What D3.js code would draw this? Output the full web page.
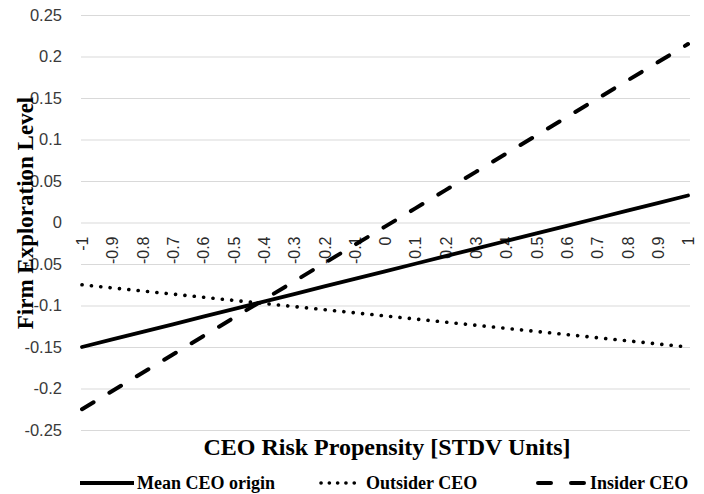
<!DOCTYPE html>
<html>
<head>
<meta charset="utf-8">
<script src="https://cdn.jsdelivr.net/npm/d3@7"></script>
<style>
  html, body { margin: 0; padding: 0; background: #fff; }
  svg { display: block; }
</style>
</head>
<body>
<div id="chart"></div>
<script>
// Risk propensity (standard-deviation units) on the category axis
const riskLevels = [-1, -0.9, -0.8, -0.7, -0.6, -0.5, -0.4, -0.3, -0.2, -0.1, 0,
                    0.1, 0.2, 0.3, 0.4, 0.5, 0.6, 0.7, 0.8, 0.9, 1];
const riskLabels = ["-1", "-0.9", "-0.8", "-0.7", "-0.6", "-0.5", "-0.4", "-0.3", "-0.2", "-0.1", "0",
                    "0.1", "0.2", "0.3", "0.4", "0.5", "0.6", "0.7", "0.8", "0.9", "1"];

// Predicted firm exploration level for each CEO origin
const meanOrigin = [-0.15, -0.1409, -0.1318, -0.1227, -0.1135, -0.1044, -0.0953, -0.0862, -0.077, -0.0679, -0.0588,
                    -0.0497, -0.0405, -0.0314, -0.0223, -0.0132, -0.004, 0.0051, 0.0143, 0.0234, 0.0325];
const outsider = [-0.075, -0.0788, -0.0825, -0.0863, -0.09, -0.0938, -0.0975, -0.1013, -0.105, -0.1088, -0.1125,
                  -0.1163, -0.12, -0.1238, -0.1275, -0.1313, -0.135, -0.1388, -0.1425, -0.1463, -0.15];
const insider = [-0.225, -0.203, -0.181, -0.159, -0.137, -0.115, -0.093, -0.071, -0.049, -0.027, -0.005,
                 0.017, 0.039, 0.061, 0.083, 0.105, 0.127, 0.149, 0.171, 0.193, 0.215];

const yTicks = [0.25, 0.2, 0.15, 0.1, 0.05, 0, -0.05, -0.1, -0.15, -0.2, -0.25];
const yTickLabels = ["0.25", "0.2", "0.15", "0.1", "0.05", "0", "-0.05", "-0.1", "-0.15", "-0.2", "-0.25"];

const seriesNames = ["Mean CEO origin", "Outsider CEO", "Insider CEO"];

const W = 704, H = 494;
const plot = { left: 81, right: 690, top: 15, bottom: 430 };

const serif = "'Liberation Serif', 'Times New Roman', serif";
const sans = "'Liberation Sans', Arial, sans-serif";

const svg = d3.select("#chart").append("svg")
  .attr("width", W).attr("height", H);

const x = d3.scalePoint()
  .domain(riskLabels)
  .range([82, 688]);

const y = d3.scaleLinear()
  .domain([-0.25, 0.25])
  .range([plot.bottom, plot.top]);

// Horizontal gridlines with value labels on the left
const yAxis = d3.axisLeft(y)
  .tickValues(yTicks)
  .tickSize(-(plot.right - plot.left))
  .tickPadding(19)
  .tickFormat((d, i) => yTickLabels[i]);

const gy = svg.append("g")
  .attr("transform", `translate(${plot.left},0)`)
  .call(yAxis);
gy.select(".domain").remove();
gy.selectAll(".tick line").attr("stroke", "#d9d9d9").attr("stroke-width", 1);
gy.selectAll(".tick text")
  .attr("fill", "#3a3a3a")
  .style("font-family", sans)
  .style("font-size", "16.5px");

// Category labels sit just below the zero line, rotated
const gx = svg.append("g")
  .attr("transform", `translate(0,${y(0)})`)
  .call(d3.axisBottom(x).tickSize(0).tickFormat((d) => d));
gx.select(".domain").remove();
gx.selectAll(".tick text")
  .attr("fill", "#2a2a2a")
  .style("font-family", sans)
  .style("font-size", "16px")
  .attr("text-anchor", "end")
  .attr("transform", "rotate(-90)")
  .attr("x", -14)
  .attr("y", 0)
  .attr("dy", "0.35em");

const line = d3.line()
  .x((d, i) => x(riskLabels[i]))
  .y((d) => y(d));

const styles = [
  { data: meanOrigin, dash: null, cap: "round", width: 3.8 },
  { data: outsider, dash: "0.1 9.3", cap: "round", width: 3.6 },
  { data: insider, dash: "13.5 18.5", cap: "round", width: 4 }
];

svg.append("g").selectAll("path")
  .data(styles)
  .join("path")
  .attr("d", (s) => line(s.data))
  .attr("fill", "none")
  .attr("stroke", "#000")
  .attr("stroke-width", (s) => s.width)
  .attr("stroke-linecap", (s) => s.cap)
  .attr("stroke-dasharray", (s) => s.dash);

// Axis titles
svg.append("text")
  .attr("x", 387).attr("y", 455)
  .attr("text-anchor", "middle")
  .style("font-family", serif)
  .style("font-weight", "bold")
  .style("font-size", "24px")
  .attr("fill", "#000")
  .text("CEO Risk Propensity [STDV Units]");

svg.append("text")
  .attr("transform", "translate(33,213) rotate(-90)")
  .attr("text-anchor", "middle")
  .style("font-family", serif)
  .style("font-weight", "bold")
  .style("font-size", "23px")
  .attr("fill", "#000")
  .text("Firm Exploration Level");

// Legend
const legendItems = [
  { x0: 80, x1: 134, tx: 137 },
  { x0: 321, x1: 362, tx: 366 },
  { x0: 538, x1: 587, tx: 590 }
];
const lg = svg.append("g");
legendItems.forEach((it, i) => {
  lg.append("line")
    .attr("x1", it.x0).attr("x2", it.x1)
    .attr("y1", 483).attr("y2", 483)
    .attr("stroke", "#000")
    .attr("stroke-width", styles[i].width)
    .attr("stroke-linecap", i === 0 ? "butt" : "round")
    .attr("stroke-dasharray", i === 1 ? "0.1 8.2" : (i === 2 ? "13 20" : null));
  lg.append("text")
    .attr("x", it.tx).attr("y", 489)
    .style("font-family", serif)
    .style("font-weight", "bold")
    .style("font-size", "18px")
    .attr("fill", "#000")
    .text(seriesNames[i]);
});
</script>
</body>
</html>
